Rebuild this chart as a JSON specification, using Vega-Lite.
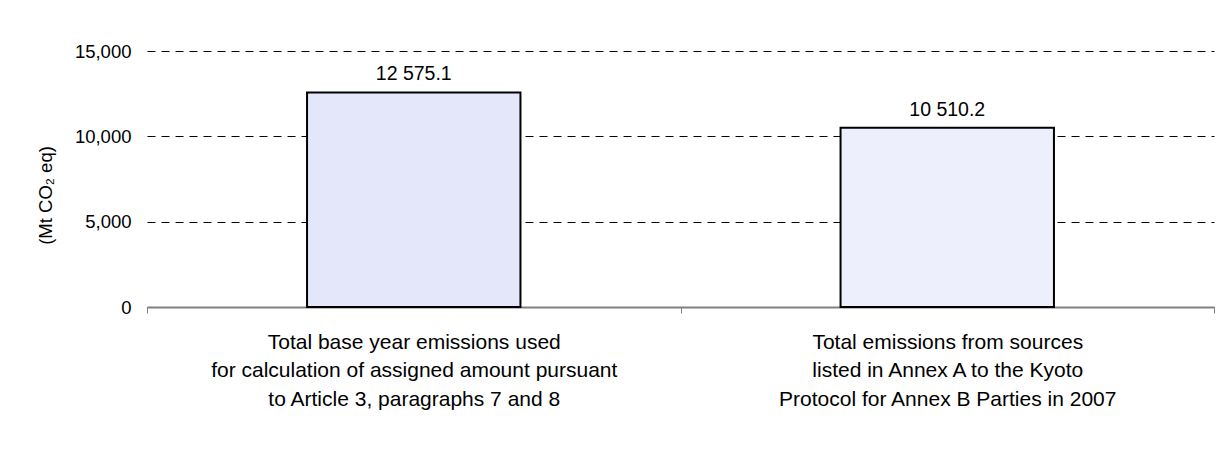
{
  "$schema": "https://vega.github.io/schema/vega-lite/v6.json",
  "autosize": "none",
  "width": 1067,
  "height": 256,
  "padding": {"left": 147, "top": 51, "right": 9, "bottom": 150},
  "background": "white",
  "data": {
    "values": [
      {"category": "Total base year emissions used|for calculation of assigned amount pursuant|to Article 3, paragraphs 7 and 8", "value": 12575.1, "label": "12 575.1", "series": "base"},
      {"category": "Total emissions from sources|listed in Annex A to the Kyoto|Protocol for Annex B Parties in 2007", "value": 10510.2, "label": "10 510.2", "series": "2007"}
    ]
  },
  "encoding": {
    "x": {
      "field": "category",
      "type": "nominal",
      "sort": null,
      "scale": {"paddingInner": 0, "paddingOuter": 0},
      "axis": {
        "title": null,
        "labelAngle": 0,
        "labelExpr": "split(datum.label, '|')",
        "labelFont": "Liberation Sans",
        "labelFontSize": 21,
        "labelColor": "black",
        "labelLineHeight": 28.5,
        "labelPadding": 18,
        "labelLimit": 700,
        "tickBand": "extent",
        "ticks": true,
        "tickSize": 6,
        "tickColor": "#808080",
        "domainColor": "#808080",
        "domainWidth": 2,
        "grid": false
      }
    },
    "y": {
      "field": "value",
      "type": "quantitative",
      "scale": {"domain": [0, 15000], "nice": false},
      "axis": {
        "title": "(Mt CO₂ eq)",
        "titleFont": "Liberation Sans",
        "titleFontSize": 18.5,
        "titleFontWeight": "normal",
        "titleColor": "black",
        "titlePadding": 19,
        "titleY": 144,
        "values": [0, 5000, 10000, 15000],
        "format": ",.0f",
        "labelFont": "Liberation Sans",
        "labelFontSize": 18.5,
        "labelColor": "black",
        "labelPadding": 16,
        "ticks": false,
        "domain": false,
        "grid": true,
        "gridColor": "black",
        "gridDash": [8, 6],
        "gridWidth": 1
      }
    }
  },
  "layer": [
    {
      "mark": {"type": "bar", "width": {"band": 0.4}, "stroke": "black", "strokeWidth": 2},
      "encoding": {
        "fill": {
          "field": "series",
          "type": "nominal",
          "scale": {"domain": ["base", "2007"], "range": ["#e4e6fa", "#eeeffc"]},
          "legend": null
        }
      }
    },
    {
      "mark": {"type": "text", "dy": -18, "font": "Liberation Sans", "fontSize": 19.5, "color": "black"},
      "encoding": {"text": {"field": "label"}}
    }
  ],
  "config": {"view": {"stroke": null}}
}
